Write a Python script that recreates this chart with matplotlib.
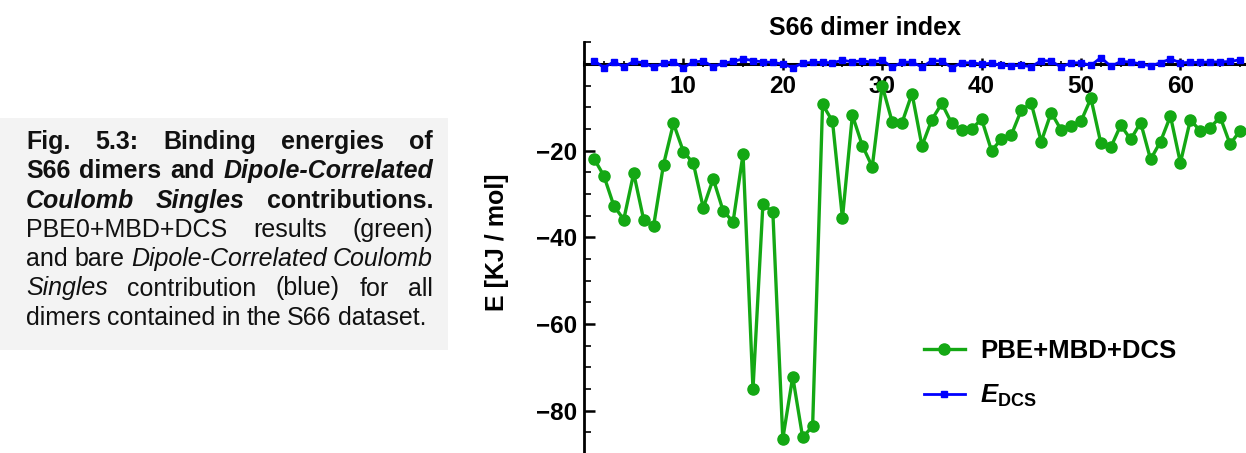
import matplotlib
matplotlib.use("Agg")
import matplotlib.pyplot as plt
from matplotlib.ticker import MultipleLocator
from matplotlib.patches import Rectangle

plt.rcParams['font.family'] = ['Liberation Sans', 'DejaVu Sans']
plt.rcParams['mathtext.fontset'] = 'custom'
plt.rcParams['mathtext.it'] = 'Liberation Sans:italic:bold'
plt.rcParams['mathtext.bf'] = 'Liberation Sans:bold'
plt.rcParams['mathtext.rm'] = 'Liberation Sans:bold'

# data
dimer_index = list(range(1, 67))
pbe_mbd_dcs = [-21.8, -25.8, -32.7, -35.9, -25.2, -35.9, -37.4, -23.2, -13.7, -20.2,
               -22.9, -33.2, -26.5, -33.9, -36.4, -20.8, -75.1, -32.3, -34.2, -86.5,
               -72.2, -86.2, -83.6, -9.3, -13.2, -35.6, -11.8, -18.8, -23.7, -5.0,
               -13.3, -13.5, -6.8, -18.9, -12.8, -9.1, -13.7, -15.2, -15.0, -12.7,
               -20.0, -17.3, -16.3, -10.6, -9.1, -17.9, -11.2, -15.2, -14.2, -13.2,
               -7.9, -18.3, -19.2, -14.1, -17.4, -13.5, -22.0, -17.9, -12.0, -22.8,
               -12.9, -15.4, -14.7, -12.2, -18.5, -15.4]
e_dcs = [0.8, -0.8, 0.5, -0.6, 0.6, 0.3, -0.7, 0.2, 0.5, -0.8,
         0.5, 0.7, -0.6, 0.2, 0.6, 1.2, 0.8, 0.5, 0.4, 0.0,
         -0.8, 0.2, 0.4, 0.4, 0.3, 0.9, 0.5, 0.8, 0.4, 0.9,
         -0.7, 0.4, 0.5, -0.7, 0.8, 0.7, -0.8, 0.3, 0.3, 0.0,
         0.2, -0.3, -0.4, -0.3, -0.6, 0.8, 0.7, -0.7, 0.3, 0.3,
         -0.3, 1.5, -0.5, 0.6, 0.5, 0.0, -0.4, 0.3, 1.2, 0.3,
         0.4, 0.4, 0.5, 0.5, 0.6, 1.0]
x_ticks = [10, 20, 30, 40, 50, 60]
y_ticks = [-80, -60, -40, -20]

caption = [
    [("Fig.", "b"), ("5.3:", "b"), ("Binding", "b"), ("energies", "b"), ("of", "b")],
    [("S66", "b"), ("dimers", "b"), ("and", "b"), ("Dipole-Correlated", "bi")],
    [("Coulomb", "bi"), ("Singles", "bi"), ("contributions.", "b")],
    [("PBE0+MBD+DCS", "r"), ("results", "r"), ("(green)", "r")],
    [("and", "r"), ("bare", "r"), ("Dipole-Correlated", "i"), ("Coulomb", "i")],
    [("Singles", "i"), ("contribution", "r"), ("(blue)", "r"), ("for", "r"), ("all", "r")],
    [("dimers", "r"), ("contained", "r"), ("in", "r"), ("the", "r"), ("S66", "r"), ("dataset.", "r")],
]

W, H = 1246, 453
GREEN = '#14a814'
BLUE = '#0000ff'

fig = plt.figure(figsize=(W / 100, H / 100), dpi=100)
renderer = fig.canvas.get_renderer()

# caption box on the left
fig.patches.append(Rectangle((0, 1 - 350 / H), 448 / W, (350 - 118) / H,
                             transform=fig.transFigure, facecolor='#f3f3f3',
                             edgecolor='none', zorder=0))

styles = {"b": ("bold", "normal"), "bi": ("bold", "italic"),
          "r": ("normal", "normal"), "i": ("normal", "italic")}
cap_fs = 18
x_left, x_right = 26, 433
for i, line in enumerate(caption):
    base_y = 149 + i * 29.3
    texts = []
    for word, st in line:
        wt, sl = styles[st]
        t = fig.text(0, 1 - base_y / H, word, fontsize=cap_fs, fontweight=wt,
                     fontstyle=sl, va='baseline', ha='left', color='#111111')
        texts.append(t)
    widths = [t.get_window_extent(renderer).width for t in texts]
    if i < len(caption) - 1:
        gap = (x_right - x_left - sum(widths)) / (len(texts) - 1)
    else:
        gap = 6
    x = x_left
    for t, w in zip(texts, widths):
        t.set_x(x / W)
        x += w + gap

# main plot
ax = fig.add_axes([584 / W, 0, (W - 584) / W, (H - 42) / H])
ax.plot(dimer_index, pbe_mbd_dcs, color=GREEN, lw=2.4, marker='o', ms=8,
        label='PBE+MBD+DCS', zorder=3)
ax.plot(dimer_index, e_dcs, color=BLUE, lw=2.0, marker='s', ms=5,
        label=r'$\mathit{E}_{\mathbf{DCS}}$', zorder=4)

ax.set_xlim(0, 66.6)
ax.set_ylim(-89.8, 5.1)
ax.spines['top'].set_visible(False)
ax.spines['right'].set_visible(False)
ax.spines['bottom'].set_position(('data', 0))
ax.spines['bottom'].set_linewidth(2.2)
ax.spines['left'].set_linewidth(2.0)

ax.set_xticks(x_ticks)
ax.set_yticks(y_ticks)
ax.xaxis.set_minor_locator(MultipleLocator(2))
ax.yaxis.set_minor_locator(MultipleLocator(5))
ax.tick_params(axis='x', which='major', direction='inout', length=9, width=1.8,
               labelsize=17.5, pad=3)
ax.tick_params(axis='x', which='minor', direction='inout', length=5, width=1.2)
ax.tick_params(axis='y', which='major', direction='in', length=8, width=1.8,
               labelsize=17.5, pad=5)
ax.tick_params(axis='y', which='minor', direction='in', length=5, width=1.2)
for lab in ax.get_xticklabels() + ax.get_yticklabels():
    lab.set_fontweight('bold')

fig.text(865 / W, 1 - 28 / H, 'S66 dimer index', ha='center', va='center',
         fontsize=18, fontweight='bold')
fig.text(497 / W, 1 - 242 / H, 'E [KJ / mol]', ha='center', va='center',
         rotation=90, fontsize=18, fontweight='bold')

ax.legend(loc='center left', bbox_to_anchor=(911 / W, 1 - 374 / H),
          bbox_transform=fig.transFigure, frameon=False,
          prop={'weight': 'bold', 'size': 18.5}, handlelength=1.6,
          handletextpad=0.6, labelspacing=0.75, borderpad=0, numpoints=1)

fig.savefig('out.png', dpi=100)
